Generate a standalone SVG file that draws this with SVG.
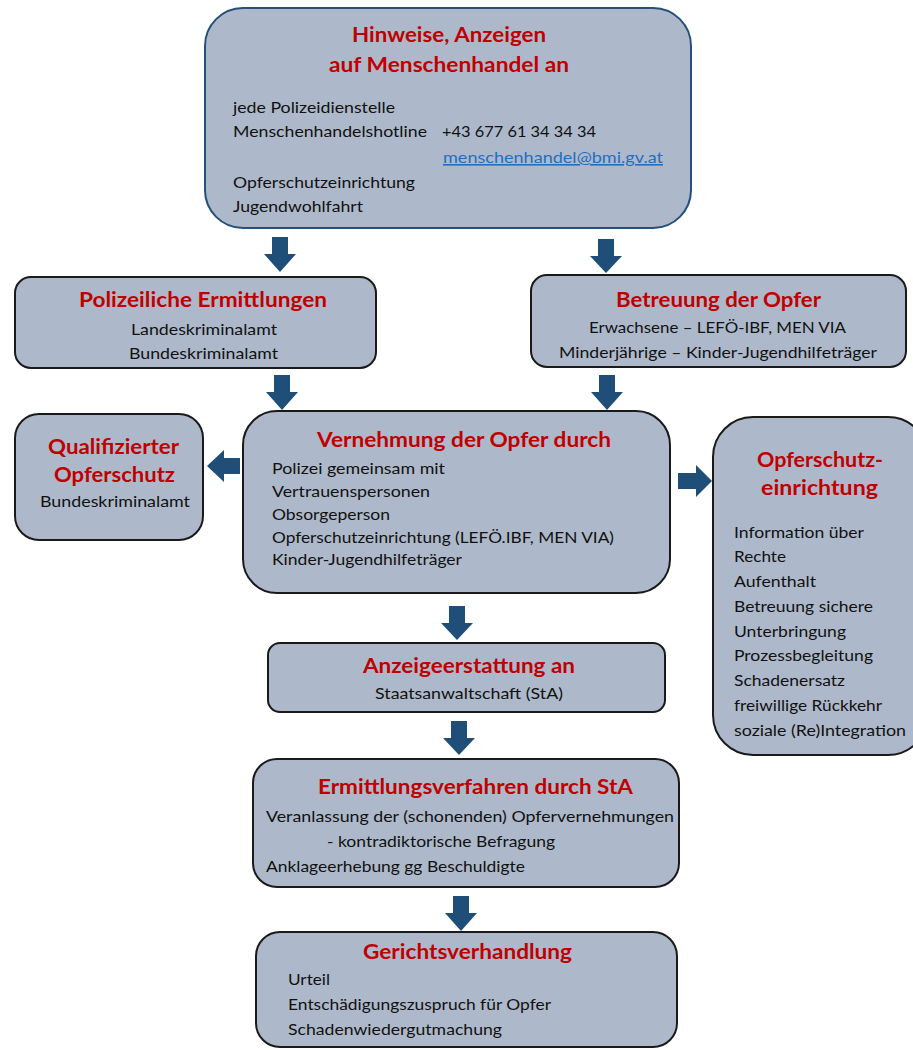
<svg xmlns="http://www.w3.org/2000/svg" width="913" height="1050" viewBox="0 0 913 1050">
<style>
.box{fill:#adb9ca;stroke:#1a1a1a;stroke-width:2}
.boxb{fill:#adb9ca;stroke:#24507a;stroke-width:2}
.t{font-family:Lato,"Liberation Sans",sans-serif;font-weight:bold;font-size:20px;fill:#c00000}
.b{font-family:Lato,"Liberation Sans",sans-serif;font-size:16px;fill:#111}
.s{font-family:Lato,"Liberation Sans",sans-serif;font-size:15px;fill:#111}
.link{fill:#1f6fc5;text-decoration:underline}
.arr{fill:#1f4e79}
</style>
<rect width="913" height="1050" fill="#ffffff"/>
<g id="connectors">
<polygon class="arr" points="272,237 288,237 288,254 296,254 280,272 264,254 272,254"/>
<polygon class="arr" points="598,239 614,239 614,256 622,256 606,273 590,256 598,256"/>
<polygon class="arr" points="274,375 290,375 290,392 298,392 282,410 266,392 274,392"/>
<polygon class="arr" points="599,375 615,375 615,392 623,392 607,410 591,392 599,392"/>
<polygon class="arr" points="240,458 240,474 224,474 224,482 207,466 224,450 224,458"/>
<polygon class="arr" points="678,473 678,489 696,489 696,497 712,481 696,465 696,473"/>
<polygon class="arr" points="449,606 465,606 465,623 473,623 457,640 441,623 449,623"/>
<polygon class="arr" points="451,721 467,721 467,738 475,738 459,755 443,738 451,738"/>
<polygon class="arr" points="453,896 469,896 469,913 477,913 461,931 445,913 453,913"/>
</g>
<g id="hinweise">
<rect class="boxb" x="205" y="8" width="486" height="220" rx="38"/>
<text class="t" x="352" y="42" font-size="21" textLength="194" lengthAdjust="spacingAndGlyphs">Hinweise, Anzeigen</text>
<text class="t" x="329" y="72" font-size="21" textLength="240" lengthAdjust="spacingAndGlyphs">auf Menschenhandel an</text>
<text class="b" x="233" y="113" textLength="162" lengthAdjust="spacingAndGlyphs">jede Polizeidienstelle</text>
<text class="b" x="233" y="137" textLength="194" lengthAdjust="spacingAndGlyphs">Menschenhandelshotline</text>
<text class="b" x="442" y="137" textLength="154" lengthAdjust="spacingAndGlyphs">+43 677 61 34 34 34</text>
<text class="b link" x="443" y="163" textLength="220" lengthAdjust="spacingAndGlyphs">menschenhandel@bmi.gv.at</text>
<text class="b" x="233" y="188" textLength="182" lengthAdjust="spacingAndGlyphs">Opferschutzeinrichtung</text>
<text class="b" x="233" y="212" textLength="130" lengthAdjust="spacingAndGlyphs">Jugendwohlfahrt</text>
</g>
<g id="polizeiliche">
<rect class="box" x="15" y="277" width="361" height="91" rx="16"/>
<text class="t" x="79" y="307" textLength="248" lengthAdjust="spacingAndGlyphs">Polizeiliche Ermittlungen</text>
<text class="s" x="131" y="335" textLength="146" lengthAdjust="spacingAndGlyphs">Landeskriminalamt</text>
<text class="s" x="129" y="359" textLength="149" lengthAdjust="spacingAndGlyphs">Bundeskriminalamt</text>
</g>
<g id="betreuung">
<rect class="box" x="531" y="275" width="375" height="92" rx="16"/>
<text class="t" x="616" y="307" textLength="205" lengthAdjust="spacingAndGlyphs">Betreuung der Opfer</text>
<text class="s" x="589" y="333" textLength="257" lengthAdjust="spacingAndGlyphs">Erwachsene – LEFÖ-IBF, MEN VIA</text>
<text class="s" x="559" y="358" textLength="318" lengthAdjust="spacingAndGlyphs">Minderjährige – Kinder-Jugendhilfeträger</text>
</g>
<g id="qualifizierter">
<rect class="box" x="15" y="414" width="188" height="126" rx="24"/>
<text class="t" x="48" y="454" textLength="131" lengthAdjust="spacingAndGlyphs">Qualifizierter</text>
<text class="t" x="54" y="482" textLength="121" lengthAdjust="spacingAndGlyphs">Opferschutz</text>
<text class="s" x="40" y="507" textLength="150" lengthAdjust="spacingAndGlyphs">Bundeskriminalamt</text>
</g>
<g id="vernehmung">
<rect class="box" x="243" y="411" width="427" height="182" rx="34"/>
<text class="t" x="317" y="447" textLength="294" lengthAdjust="spacingAndGlyphs">Vernehmung der Opfer durch</text>
<text class="s" x="272" y="474" textLength="173" lengthAdjust="spacingAndGlyphs">Polizei gemeinsam mit</text>
<text class="s" x="272" y="497" textLength="158" lengthAdjust="spacingAndGlyphs">Vertrauenspersonen</text>
<text class="s" x="272" y="520" textLength="118" lengthAdjust="spacingAndGlyphs">Obsorgeperson</text>
<text class="s" x="272" y="543" textLength="342" lengthAdjust="spacingAndGlyphs">Opferschutzeinrichtung (LEFÖ.IBF, MEN VIA)</text>
<text class="s" x="272" y="565" textLength="190" lengthAdjust="spacingAndGlyphs">Kinder-Jugendhilfeträger</text>
</g>
<g id="opferschutzeinrichtung">
<rect class="box" x="713" y="417" width="215" height="338" rx="40"/>
<text class="t" x="757" y="467" textLength="126" lengthAdjust="spacingAndGlyphs">Opferschutz-</text>
<text class="t" x="761" y="495" textLength="117" lengthAdjust="spacingAndGlyphs">einrichtung</text>
<text class="b" x="734" y="538" textLength="130" lengthAdjust="spacingAndGlyphs">Information über</text>
<text class="b" x="734" y="562" textLength="52" lengthAdjust="spacingAndGlyphs">Rechte</text>
<text class="b" x="734" y="587" textLength="82" lengthAdjust="spacingAndGlyphs">Aufenthalt</text>
<text class="b" x="734" y="612" textLength="139" lengthAdjust="spacingAndGlyphs">Betreuung sichere</text>
<text class="b" x="734" y="637" textLength="112" lengthAdjust="spacingAndGlyphs">Unterbringung</text>
<text class="b" x="734" y="661" textLength="139" lengthAdjust="spacingAndGlyphs">Prozessbegleitung</text>
<text class="b" x="734" y="686" textLength="111" lengthAdjust="spacingAndGlyphs">Schadenersatz</text>
<text class="b" x="734" y="711" textLength="148" lengthAdjust="spacingAndGlyphs">freiwillige Rückkehr</text>
<text class="b" x="734" y="736" textLength="172" lengthAdjust="spacingAndGlyphs">soziale (Re)Integration</text>
</g>
<g id="anzeigeerstattung">
<rect class="box" x="268" y="643" width="397" height="69" rx="12"/>
<text class="t" x="363" y="673" textLength="212" lengthAdjust="spacingAndGlyphs">Anzeigeerstattung an</text>
<text class="b" x="375" y="699" textLength="188" lengthAdjust="spacingAndGlyphs">Staatsanwaltschaft (StA)</text>
</g>
<g id="ermittlungsverfahren">
<rect class="box" x="253" y="759" width="426" height="128" rx="24"/>
<text class="t" x="318" y="794" textLength="315" lengthAdjust="spacingAndGlyphs">Ermittlungsverfahren durch StA</text>
<text class="b" x="266" y="822" textLength="408" lengthAdjust="spacingAndGlyphs">Veranlassung der (schonenden) Opfervernehmungen</text>
<text class="b" x="327" y="847" textLength="228" lengthAdjust="spacingAndGlyphs">- kontradiktorische Befragung</text>
<text class="b" x="266" y="872" textLength="259" lengthAdjust="spacingAndGlyphs">Anklageerhebung gg Beschuldigte</text>
</g>
<g id="gerichtsverhandlung">
<rect class="box" x="256" y="932" width="421" height="115" rx="24"/>
<text class="t" x="363" y="959" textLength="209" lengthAdjust="spacingAndGlyphs">Gerichtsverhandlung</text>
<text class="b" x="288" y="985" textLength="42" lengthAdjust="spacingAndGlyphs">Urteil</text>
<text class="b" x="288" y="1010" textLength="263" lengthAdjust="spacingAndGlyphs">Entschädigungszuspruch für Opfer</text>
<text class="b" x="288" y="1035" textLength="214" lengthAdjust="spacingAndGlyphs">Schadenwiedergutmachung</text>
</g>
</svg>
